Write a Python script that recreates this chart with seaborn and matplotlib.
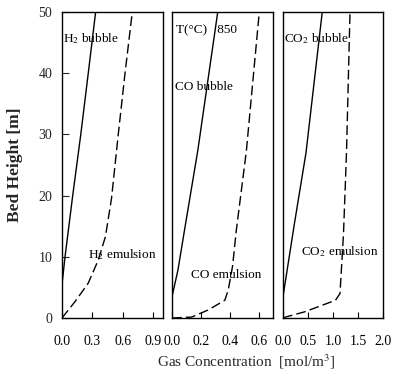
import matplotlib
matplotlib.use("Agg")
import matplotlib.pyplot as plt
import seaborn as sns
import pandas as pd

# ---- data ----
h2_bub_x = [0.0, 0.0, 0.03, 0.106, 0.186, 0.26, 0.333]
h2_bub_y = [0.0, 5.5, 10.0, 20.0, 30.0, 40.0, 50.0]
h2_emu_x = [0.0, 0.13, 0.26, 0.36, 0.43, 0.49, 0.557, 0.624, 0.696]
h2_emu_y = [0.0, 2.7, 5.7, 9.5, 13.3, 19.5, 30.0, 40.0, 50.0]

co_bub_x = [0.0, 0.0, 0.041, 0.087, 0.179, 0.317]
co_bub_y = [0.0, 3.5, 7.8, 14.4, 27.4, 50.0]
co_emu_x = [0.0, 0.136, 0.25, 0.366, 0.39, 0.42, 0.446, 0.515, 0.605]
co_emu_y = [0.0, 0.15, 1.3, 2.9, 4.6, 8.5, 14.4, 27.2, 50.0]

co2_bub_x = [0.0, 0.0, 0.23, 0.46, 0.785]
co2_bub_y = [0.0, 3.5, 15.5, 27.0, 50.0]
co2_emu_x = [0.0, 0.07, 0.43, 1.05, 1.14, 1.21, 1.27, 1.34]
co2_emu_y = [0.0, 0.2, 1.0, 2.9, 4.0, 13.8, 27.0, 50.0]

x_ticks_h2 = [0.0, 0.3, 0.6, 0.9]
x_ticks_co = [0.0, 0.2, 0.4, 0.6]
x_ticks_co2 = [0.0, 0.5, 1.0, 1.5, 2.0]
y_ticks = [0, 10, 20, 30, 40, 50]

sns.set_style("ticks")
plt.rcParams['font.family'] = ['Liberation Serif', 'DejaVu Serif']
plt.rcParams['mathtext.fontset'] = 'stix'

fig = plt.figure(figsize=(3.96, 3.76), dpi=100)
W, H = 396, 376
def box(x0, x1, y0=12, y1=318):
    return [x0 / W, 1 - y1 / H, (x1 - x0) / W, (y1 - y0) / H]

ax1 = fig.add_axes(box(62, 163))
ax2 = fig.add_axes(box(172, 273))
ax3 = fig.add_axes(box(283, 383))

panels = [
    (ax1, h2_bub_x, h2_bub_y, h2_emu_x, h2_emu_y, (0, 1.0), x_ticks_h2, ["0.0", "0.3", "0.6", "0.9"]),
    (ax2, co_bub_x, co_bub_y, co_emu_x, co_emu_y, (0, 0.70), x_ticks_co, ["0.0", "0.2", "0.4", "0.6"]),
    (ax3, co2_bub_x, co2_bub_y, co2_emu_x, co2_emu_y, (0, 1.95), x_ticks_co2, ["0.0", "0.5", "1.0", "1.5", "2.0"]),
]

for ax, bx, by, ex, ey, xl, xt, xtl in panels:
    dfb = pd.DataFrame({"x": bx, "y": by})
    dfe = pd.DataFrame({"x": ex, "y": ey})
    sns.lineplot(data=dfb, x="x", y="y", ax=ax, estimator=None, sort=False,
                 color="black", linewidth=1.0)
    sns.lineplot(data=dfe, x="x", y="y", ax=ax, estimator=None, sort=False,
                 color="black", linewidth=1.0, dashes=False, linestyle=(0, (7, 3)))
    ax.set_xlim(*xl)
    ax.set_ylim(0, 50)
    ax.set_xticks(xt)
    ax.set_xticklabels(xtl, fontsize=10)
    ax.set_xlabel("")
    ax.set_ylabel("")
    for s in ax.spines.values():
        s.set_visible(True)
        s.set_linewidth(1.0)
        s.set_color("black")
    ax.tick_params(axis="x", direction="in", length=4, width=0.8, pad=12, colors="black")
    ax.tick_params(axis="y", direction="in", length=5, width=0.8, pad=7)

ax1.set_yticks(y_ticks)
ax1.set_yticklabels([str(v) for v in y_ticks], fontsize=10)
ax2.set_yticks([])
ax3.set_yticks([])

tk = dict(fontsize=9.5, color="black", va="center", ha="left")
ax1.text(0.01, 45.7, "H$_2$ bubble", **tk)
ax1.text(0.26, 10.3, "H$_2$ emulsion", **tk)
ax2.text(0.03, 47.0, "T(°C)   850", **tk)
ax2.text(0.02, 37.8, "CO bubble", **tk)
ax2.text(0.13, 7.0, "CO emulsion", **tk)
ax3.text(0.02, 45.7, "CO$_2$ bubble", **tk)
ax3.text(0.36, 10.8, "CO$_2$ emulsion", **tk)

fig.text(15 / W, 1 - 165 / H, "Bed Height [m]", rotation=90, fontsize=12.5,
         fontweight="bold", ha="center", va="center")
fig.text(246 / W, 1 - 362 / H, "Gas Concentration  [mol/m$^3$]", fontsize=11,
         ha="center", va="center")

fig.savefig("out.png", dpi=100)
